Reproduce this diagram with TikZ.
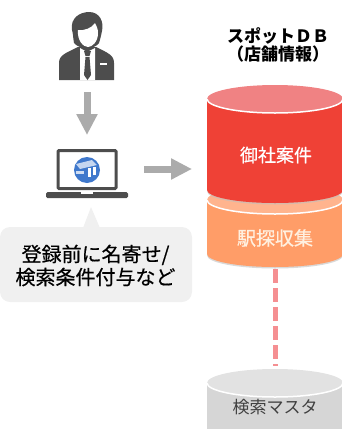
\documentclass[tikz,border=0pt]{standalone}
\usepackage{fontspec}
\usetikzlibrary{arrows.meta}
\newfontfamily\cjk{Noto Sans CJK JP}
\newfontfamily\cjkmed[FakeBold=0.5]{Noto Sans CJK JP}

\definecolor{icondark}{HTML}{4D4D4D}
\definecolor{arrowgray}{HTML}{ABABAB}
\definecolor{bubblegray}{HTML}{F0F0F0}
\definecolor{redbody}{HTML}{EF4136}
\definecolor{redtop}{HTML}{F08283}
\definecolor{orangebody}{HTML}{FF9D68}
\definecolor{orangetop}{HTML}{FFB48E}
\definecolor{graybody}{HTML}{D6D6D6}
\definecolor{graytop}{HTML}{E2E2E2}
\definecolor{dashpink}{HTML}{F58F92}
\definecolor{logoblue}{HTML}{3F78CC}

\tikzset{
  label/.style={inner sep=0pt, align=center},
  blockarrow/.style={draw=arrowgray, line width=7pt, -{Triangle[width=20pt,length=21pt]}},
  dbedge/.style={draw=white, line width=1.5pt},
}

% cylinder: x centre, y of top ellipse, y of lower edge, body colour, top colour
\newcommand{\dbcylinder}[5]{
  \fill[black!25, opacity=0.6] (#1-68,#2) -- (#1-68,#3+1.5) arc[start angle=180, end angle=0, x radius=68, y radius=13] -- (#1+68,#2) -- cycle;
  \fill[#4] (#1-68,#2) -- (#1-68,#3) arc[start angle=180, end angle=0, x radius=68, y radius=13] -- (#1+68,#2) -- cycle;
  \fill[#5] (#1,#2) ellipse[x radius=68, y radius=14];
  \draw[dbedge] (#1-68,#2) arc[start angle=180, end angle=0, x radius=68, y radius=14];
}

\begin{document}
\begin{tikzpicture}[x=1pt, y=-1pt]

\useasboundingbox (0,0) rectangle (341,429);

\dbcylinder{275}{383}{430}{graybody}{graytop}
\dbcylinder{275}{200}{254}{orangebody}{orangetop}
\dbcylinder{275}{99}{190}{redbody}{redtop}

\node[label, font=\cjk\bfseries\fontsize{17}{18}\selectfont] (title) at (278, 44.5) {スポットＤＢ\\（店舗情報）};
\node[label, text=white, font=\cjkmed\fontsize{18}{20}\selectfont] (kenken) at (276, 155) {御社案件};
\node[label, text=white!88!orange, font=\cjkmed\fontsize{19}{20}\selectfont] (ekitan) at (275, 238) {駅探収集};
\node[label, text=black!75, font=\cjk\fontsize{17}{20}\selectfont] (master) at (275, 407) {検索マスタ};

\coordinate (ekitanbottom) at (275, 269);
\coordinate (mastertop) at (275, 366);
\draw[draw=dashpink, line width=5pt, dash pattern=on 14pt off 5pt] (ekitanbottom) -- (mastertop);

% person
\fill[icondark] (59,80) -- (59,63) .. controls (59,55) and (66,53) .. (78,47) -- (96,47) .. controls (108,53) and (114,55) .. (114,63) -- (114,80) -- cycle;
\fill[white] (80,48) -- (80,80) -- (95,80) -- (95,48) -- (87,52) -- cycle;
\fill[icondark] (84,51) -- (91,51) -- (89.5,56) -- (85.5,56) -- cycle;
\fill[icondark] (85.5,57) -- (89.5,57) -- (91,75) -- (87.5,80) -- (84,75) -- cycle;
\fill[white] (100,63) rectangle (107,65);
\fill[icondark] (74,43) .. controls (73,37) and (73,33) .. (72,30) .. controls (70,18) and (80,12) .. (89,12) .. controls (100,12) and (104,22) .. (102,31) .. controls (101,36) and (100,40) .. (99,43) .. controls (94,50) and (80,50) .. (74,43) -- cycle;
\fill[white] (78,30) .. controls (84,31) and (92,28) .. (95,23) .. controls (97,27) and (98,29) .. (98,33) .. controls (98,42) and (92,47) .. (88,47) .. controls (83,47) and (77,40) .. (78,30) -- cycle;

\coordinate (personbottom) at (87, 92);
\coordinate (laptoptop) at (87, 135);
\draw[blockarrow] (personbottom) -- (laptoptop);

% laptop
\draw[icondark, line width=3pt, fill=white, rounded corners=1pt] (58,150.5) rectangle (116,188.5);
\fill[icondark, rounded corners=1.5pt] (46,192) rectangle (128,198);
\fill[white] (81,192) rectangle (93,194);
\fill[logoblue] (87,170) circle[radius=13];
\fill[white!70!logoblue] (76,164) -- (92,160) -- (97,165) -- (80,169) -- cycle;
\fill[white] (88,168) rectangle (91,177);
\fill[white] (93,167) rectangle (96,175);
\fill[white!75!logoblue] (76,171) rectangle (84,174);

\coordinate (laptopright) at (144, 169);
\coordinate (dbleft) at (192, 169);
\draw[blockarrow] (laptopright) -- (dbleft);

% bubble
\fill[bubblegray, rounded corners=10pt] (0,227) rectangle (192,302);
\fill[bubblegray] (83,228) -- (91,207) -- (100,228) -- cycle;
\node[label, font=\cjkmed\fontsize{20}{23}\selectfont] (note) at (95.5, 265.5) {登録前に名寄せ/\\検索条件付与など};

\end{tikzpicture}
\end{document}
